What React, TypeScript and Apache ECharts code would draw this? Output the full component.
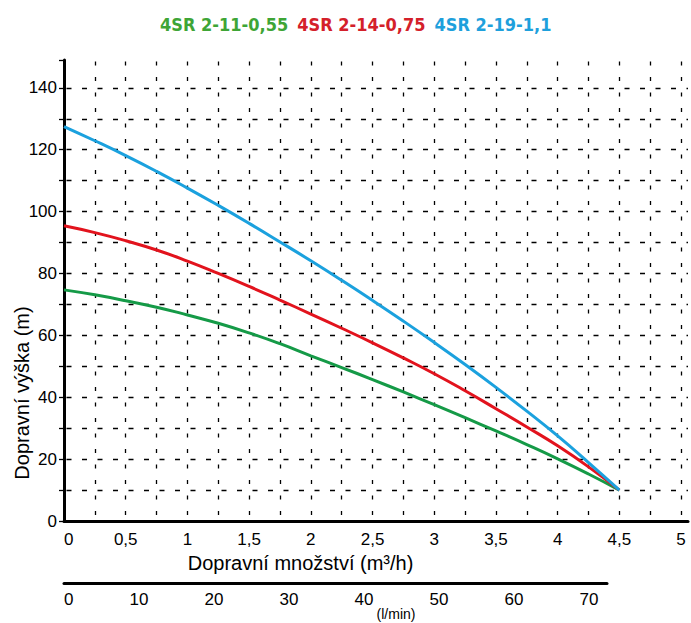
import React, { useEffect, useRef } from "react";
import * as echarts from "echarts";

// Flow (m³/h)
const flow = [0, 0.25, 0.5, 0.75, 1.0, 1.25, 1.5, 1.75, 2.0, 2.25, 2.5, 2.75, 3.0, 3.25, 3.5, 3.75, 4.0, 4.25, 4.5];
// Head (m)
const head_2_11 = [74.7, 73.1, 71.2, 69.1, 66.6, 63.9, 60.8, 57.3, 53.4, 49.6, 45.7, 41.7, 37.6, 33.4, 29.1, 24.7, 20.1, 15.2, 10];
const head_2_14 = [95.4, 93.2, 90.6, 87.6, 84.0, 80.0, 75.8, 71.4, 66.9, 62.3, 57.6, 52.7, 47.6, 42.1, 36.3, 30.4, 24.3, 17.5, 10];
const head_2_19 = [127.5, 122.9, 118.1, 113.0, 107.6, 102.0, 96.2, 90.2, 84.1, 77.8, 71.3, 64.6, 57.7, 50.6, 43.2, 35.5, 27.5, 18.9, 10];

const seriesNames = ["4SR 2-11-0,55", "4SR 2-14-0,75", "4SR 2-19-1,1"];
const lineColors = ["#159a47", "#e2131d", "#1ba1de"];
const legendColors = ["#3ea536", "#d4202a", "#1ea0dc"];

const xTitle = "Dopravní množství (m³/h)";
const yTitle = "Dopravní výška (m)";
const x2Title = "(l/min)";

const numFont = "'Liberation Sans', Arial, sans-serif";
const legendFont = "'DejaVu Sans Condensed', 'Liberation Sans Narrow', 'Liberation Sans', sans-serif";

export default function App() {
  const ref = useRef<HTMLDivElement>(null);
  useEffect(() => {
    if (!ref.current) return;
    const chart = echarts.init(ref.current, undefined, { renderer: "svg" });
    const heads = [head_2_11, head_2_14, head_2_19];
    const ySplitColors = [...Array.from({ length: 15 }, () => "#000"), "transparent"];
    const xSplitColors = [...Array.from({ length: 21 }, () => "#000"), "transparent"];
    const fmt = (v: number) => String(v).replace(".", ",");
    chart.setOption({
      animation: false,
      legend: {
        left: 150,
        top: 10,
        itemGap: 4,
        icon: "none",
        itemWidth: 0,
        itemHeight: 0,
        selectedMode: false,
        textStyle: { fontFamily: legendFont, fontWeight: "bold", fontSize: 18 },
        data: seriesNames.map((n, i) => ({ name: n, textStyle: { color: legendColors[i] } })),
      },
      grid: [
        { left: 64, top: 60, width: 627, height: 461 },
        { left: 64, top: 582, width: 543, height: 1 },
      ],
      xAxis: [
        {
          type: "value",
          gridIndex: 0,
          min: 0,
          max: 5.056,
          interval: 0.25,
          axisLine: { show: true, lineStyle: { color: "#000", width: 3 } },
          axisTick: { show: false },
          axisLabel: {
            color: "#000",
            fontFamily: numFont,
            fontSize: 17,
            margin: 10,
            alignMinLabel: "left",
            formatter: (v: number) => {
              const d = v * 2;
              if (Math.abs(d - Math.round(d)) < 1e-6 && v <= 5.0001) return fmt(Math.round(d) / 2);
              return "";
            },
          },
          splitLine: {
            show: true,
            lineStyle: { color: xSplitColors, width: 1.3, type: [4, 11.5], dashOffset: 13.5 },
          },
          name: xTitle,
          nameLocation: "middle",
          nameGap: 28,
          nameTextStyle: { color: "#000", fontFamily: numFont, fontSize: 20, padding: [0, 151, 0, 0] },
        },
        {
          type: "value",
          gridIndex: 1,
          min: 0,
          max: 72.4,
          interval: 10,
          position: "bottom",
          axisLine: { show: true, lineStyle: { color: "#000", width: 3 } },
          axisTick: { show: false },
          splitLine: { show: false },
          axisLabel: {
            color: "#000",
            fontFamily: numFont,
            fontSize: 17,
            margin: 8,
            alignMinLabel: "left",
            formatter: (v: number) => (Math.abs(v / 10 - Math.round(v / 10)) < 1e-6 ? String(v) : ""),
          },
        },
      ],
      yAxis: [
        {
          type: "value",
          gridIndex: 0,
          min: 0,
          max: 149,
          interval: 10,
          axisLine: { show: true, lineStyle: { color: "#000", width: 3 } },
          axisTick: { show: true, length: 5, lineStyle: { color: "#000", width: 1.3 } },
          axisLabel: {
            color: "#000",
            fontFamily: numFont,
            fontSize: 17,
            margin: 7,
            formatter: (v: number) => (v % 20 === 0 ? String(v) : ""),
          },
          splitLine: {
            show: true,
            lineStyle: { color: ySplitColors, width: 1.3, type: [5, 10.5], dashOffset: 13 },
          },
        },
        { type: "value", gridIndex: 1, show: false, min: 0, max: 1 },
      ],
      graphic: [
        {
          type: "text",
          x: 22,
          y: 393,
          rotation: Math.PI / 2,
          style: {
            text: yTitle,
            fill: "#000",
            fontFamily: numFont,
            fontSize: 20,
            textAlign: "center",
            textVerticalAlign: "middle",
          },
        },
        {
          type: "text",
          x: 396,
          y: 614,
          style: {
            text: x2Title,
            fill: "#000",
            fontFamily: numFont,
            fontSize: 14,
            textAlign: "center",
            textVerticalAlign: "middle",
          },
        },
      ],
      series: seriesNames.map((n, i) => ({
        name: n,
        type: "line",
        xAxisIndex: 0,
        yAxisIndex: 0,
        smooth: true,
        showSymbol: false,
        symbol: "none",
        lineStyle: { color: lineColors[i], width: 3 },
        itemStyle: { color: lineColors[i] },
        data: flow.map((q, k) => [q, heads[i][k]]),
        z: 3 + i,
      })),
    });
    return () => chart.dispose();
  }, []);
  return (
    <div
      ref={ref}
      style={{ position: "fixed", left: 0, top: 0, width: 691, height: 623, background: "#fff" }}
    />
  );
}
